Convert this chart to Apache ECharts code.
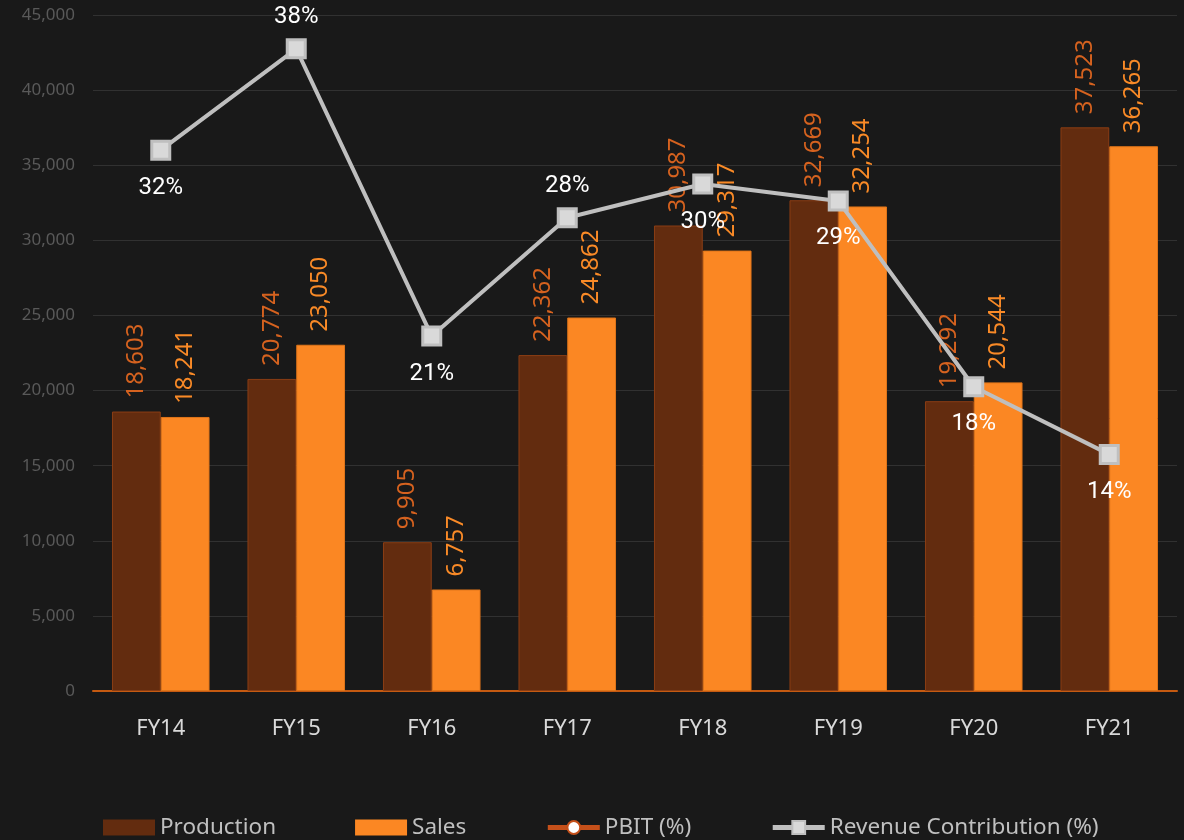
<!DOCTYPE html>
<html>
<head>
<meta charset="utf-8">
<title>Production / Sales</title>
<script src="https://cdn.jsdelivr.net/npm/echarts@6/dist/echarts.min.js"></script>
<style>
    html, body { margin: 0; padding: 0; background: #191919; }
    #chart { width: 1184px; height: 840px; }
</style>
</head>
<body>
<div id="chart"></div>
<script>
    // 数据
    let categories = ['FY14', 'FY15', 'FY16', 'FY17', 'FY18', 'FY19', 'FY20', 'FY21'];
    let production = [18603, 20774, 9905, 22362, 30987, 32669, 19292, 37523];
    let sales = [18241, 23050, 6757, 24862, 29317, 32254, 20544, 36265];
    let pbit = [];
    let revenue = [32, 38, 21, 28, 30, 29, 18, 14];
    let yTicks = [0, 5000, 10000, 15000, 20000, 25000, 30000, 35000, 40000, 45000];

    // 折线标签位置
    let revenueLabelPos = ['bottom', 'top', 'bottom', 'top', 'bottom', 'bottom', 'bottom', 'bottom'];

    let fmt = function (v) {
        return Number(v).toLocaleString('en-US');
    };

    let font = '"Noto Sans", "Open Sans", sans-serif';

    let chart = echarts.init(document.getElementById('chart'));
    chart.setOption({
        backgroundColor: '#191919',
        textStyle: { fontFamily: font },
        animation: false,
        grid: { left: 93, right: 7, top: 15, bottom: 149, containLabel: false },
        legend: {
            bottom: -4,
            left: 98,
            itemWidth: 52,
            itemHeight: 16,
            itemGap: 79,
            textStyle: { color: '#bfbfbf', fontSize: 22.5, fontFamily: font },
            data: [
                { name: 'Production', icon: 'rect', itemStyle: { borderWidth: 0 } },
                { name: 'Sales', icon: 'rect', itemStyle: { borderWidth: 0 } },
                { name: 'PBIT (%)', lineStyle: { width: 5 } },
                { name: 'Revenue Contribution (%)', lineStyle: { width: 5 } }
            ]
        },
        xAxis: {
            type: 'category',
            data: categories,
            axisTick: { show: false },
            axisLine: { lineStyle: { color: '#c55a11', width: 2 } },
            axisLabel: { color: '#d9d9d9', fontSize: 22, margin: 27 }
        },
        yAxis: [{
            type: 'value',
            min: yTicks[0],
            max: yTicks[yTicks.length - 1],
            interval: yTicks[1] - yTicks[0],
            axisLine: { show: false },
            axisTick: { show: false },
            axisLabel: { color: '#595959', fontSize: 17, margin: 18, formatter: fmt },
            splitLine: { lineStyle: { color: '#313131', width: 1 } }
        }, {
            type: 'value',
            min: 0,
            max: 40,
            show: false,
            splitLine: { show: false }
        }],
        series: [
            {
                name: 'Production',
                type: 'bar',
                data: production,
                barGap: '0%',
                barCategoryGap: '28%',
                itemStyle: { color: '#632c0f', borderColor: '#8a3d14', borderWidth: 1 },
                label: {
                    show: true,
                    position: 'top',
                    rotate: 90,
                    align: 'left',
                    verticalAlign: 'middle',
                    distance: 13,
                    color: '#d5621f',
                    fontSize: 24,
                    formatter: function (p) { return fmt(p.value); }
                }
            },
            {
                name: 'Sales',
                type: 'bar',
                data: sales,
                itemStyle: { color: '#fb8723', borderColor: '#e0751a', borderWidth: 1 },
                label: {
                    show: true,
                    position: 'top',
                    rotate: 90,
                    align: 'left',
                    verticalAlign: 'middle',
                    distance: 13,
                    color: '#f98a27',
                    fontSize: 24,
                    formatter: function (p) { return fmt(p.value); }
                }
            },
            {
                name: 'PBIT (%)',
                type: 'line',
                yAxisIndex: 1,
                data: pbit,
                symbol: 'circle',
                symbolSize: 16,
                lineStyle: { color: '#c5501a', width: 5 },
                itemStyle: { color: '#ffffff', borderColor: '#c5501a', borderWidth: 5 }
            },
            {
                name: 'Revenue Contribution (%)',
                type: 'line',
                yAxisIndex: 1,
                z: 5,
                data: revenue.map(function (v, i) {
                    let pos = revenueLabelPos[i];
                    return { value: v, label: { position: pos, distance: pos === 'bottom' ? 15 : 9 } };
                }),
                symbol: 'rect',
                symbolSize: 18,
                lineStyle: { color: '#bfbfbf', width: 4 },
                itemStyle: { color: '#d9d9d9', borderColor: '#bfbfbf', borderWidth: 3 },
                label: {
                    show: true,
                    color: '#ffffff',
                    fontSize: 24,
                    fontFamily: 'Roboto, sans-serif',
                    formatter: '{c}%'
                }
            }
        ]
    });
</script>
</body>
</html>
